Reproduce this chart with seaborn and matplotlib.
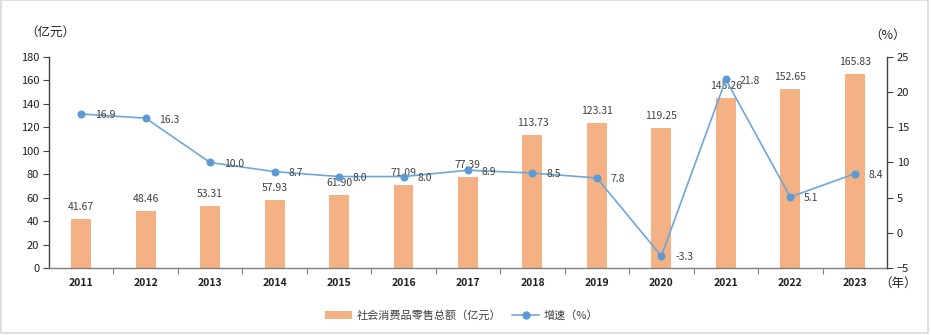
import numpy as np
import pandas as pd
import matplotlib
matplotlib.use("Agg")
import matplotlib.pyplot as plt
import seaborn as sns
from matplotlib.patches import Rectangle
from matplotlib.lines import Line2D
from matplotlib.patches import Patch

years = ["2011", "2012", "2013", "2014", "2015", "2016", "2017",
         "2018", "2019", "2020", "2021", "2022", "2023"]
retail_sales = [41.67, 48.46, 53.31, 57.93, 61.90, 71.09, 77.39,
                113.73, 123.31, 119.25, 145.26, 152.65, 165.83]
growth_rate = [16.9, 16.3, 10.0, 8.7, 8.0, 8.0, 8.9,
               8.5, 7.8, -3.3, 21.8, 5.1, 8.4]

bar_name = "社会消费品零售总额（亿元）"
line_name = "增速（%）"

sns.set_theme(style="white")
plt.rcParams["font.family"] = ["Noto Sans CJK SC", "DejaVu Sans"]

BAR_COLOR = "#F4B183"
LINE_COLOR = "#6FA6DA"
MARK_COLOR = "#5B9BD5"
TEXT_COLOR = "#404040"

df = pd.DataFrame({"year": years, "sales": retail_sales, "growth": growth_rate})
df["pos"] = np.arange(len(df))

fig = plt.figure(figsize=(9.31, 3.35), dpi=100)
ax = fig.add_axes([0.0526, 0.2, 0.9001, 0.6299])

sns.barplot(data=df, x="year", y="sales", color=BAR_COLOR, width=0.31,
            saturation=1, ax=ax, edgecolor="none")
ax.set_xlim(-0.5, len(years) - 0.5)
ax.set_ylim(0, 180)
ax.set_yticks(np.arange(0, 181, 20))
ax.set_xlabel("")
ax.set_ylabel("")

for p, v in zip(df["pos"], df["sales"]):
    ax.annotate(f"{v:.2f}", (p, v), xytext=(0, 5), textcoords="offset points",
                ha="center", va="bottom", fontsize=7.5, color=TEXT_COLOR)

ax2 = ax.twinx()
sns.lineplot(data=df, x="pos", y="growth", ax=ax2, color=LINE_COLOR,
             linewidth=1.2, marker="o", markersize=5,
             markerfacecolor=MARK_COLOR, markeredgecolor=MARK_COLOR)
ax2.set_ylim(-5, 25)
ax2.set_yticks(np.arange(-5, 26, 5))
ax2.set_ylabel("")
ax2.set_xlabel("")
ax2.set_xlim(-0.5, len(years) - 0.5)

for p, v in zip(df["pos"], df["growth"]):
    ax2.annotate(f"{v:.1f}", (p, v), xytext=(10, -1), textcoords="offset points",
                 ha="left", va="center", fontsize=7.5, color=TEXT_COLOR)

# axes styling
for a in (ax, ax2):
    a.spines["top"].set_visible(False)
    a.grid(False)
ax.spines["right"].set_visible(False)
ax.spines["left"].set_color("#404040")
ax.spines["bottom"].set_color("#7F7F7F")
ax2.spines["right"].set_color("#404040")
ax2.spines["left"].set_visible(False)
ax2.spines["bottom"].set_visible(False)
for s in ("left", "bottom"):
    ax.spines[s].set_linewidth(1.0)
ax2.spines["right"].set_linewidth(1.0)

ax.tick_params(axis="y", which="both", left=True, length=4, width=0.8,
               color="#404040", labelsize=8, labelcolor="#202020", pad=3)
ax2.tick_params(axis="y", which="both", right=True, length=4, width=0.8,
                color="#404040", labelsize=8, labelcolor="#202020", pad=3)
ax.tick_params(axis="x", which="major", bottom=False, length=0, labelsize=7.5,
               labelcolor="#202020", pad=7)
for lbl in ax.get_xticklabels():
    lbl.set_fontweight("bold")
# category boundary ticks on the x axis
ax.set_xticks(np.arange(0.5, len(years) - 1, 1), minor=True)
ax.tick_params(axis="x", which="minor", bottom=True, length=4, width=0.8,
               color="#7F7F7F", direction="out")

# unit labels
fig.text(0.027, 0.905, "（亿元）", fontsize=9, color="#202020", ha="left", va="center")
fig.text(0.934, 0.895, "（%）", fontsize=9, color="#202020", ha="left", va="center")
fig.text(0.944, 0.155, "（年）", fontsize=9, color="#202020", ha="left", va="center")

# legend
handles = [Patch(facecolor=BAR_COLOR, edgecolor="none"),
           Line2D([0], [0], color=LINE_COLOR, lw=1.2, marker="o", markersize=5,
                  markerfacecolor=MARK_COLOR, markeredgecolor=MARK_COLOR)]
fig.legend(handles, [bar_name, line_name], loc="center", bbox_to_anchor=(0.496, 0.058),
           ncol=2, frameon=False, fontsize=8, handlelength=2.4, columnspacing=1.0,
           handletextpad=0.4, labelcolor="#404040")

# figure frame
fig.patches.append(Rectangle((0.001, 0.005), 0.996, 0.994, transform=fig.transFigure,
                             fill=False, edgecolor="#D9D9D9", linewidth=1.2))

fig.savefig("out.png", dpi=100)
